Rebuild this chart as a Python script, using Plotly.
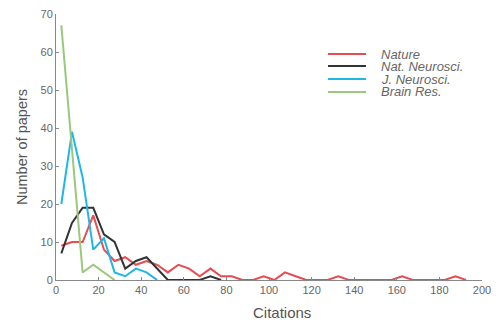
import plotly.graph_objects as go

bin_centers = [2.5 + 5 * i for i in range(39)]

nature = [9, 10, 10, 17, 8, 5, 6, 4, 5, 4, 2, 4, 3, 1, 3, 1, 1, 0, 0, 1,
          0, 2, 1, 0, 0, 0, 1, 0, 0, 0, 0, 0, 1, 0, 0, 0, 0, 1, 0]
nat_neurosci = [7, 15, 19, 19, 12, 10, 3, 5, 6, 3, 0, 0, 0, 0, 1, 0]
j_neurosci = [20, 39, 27, 8, 11, 2, 1, 3, 2, 0]
brain_res = [67, 34, 2, 4, 2, 0]

series_names = ["Nature", "Nat. Neurosci.", "J. Neurosci.", "Brain Res."]
series_values = [nature, nat_neurosci, j_neurosci, brain_res]
series_colors = ["#e84c52", "#333333", "#1db8e8", "#9cc77f"]

x_ticks = list(range(0, 201, 20))
y_ticks = list(range(0, 71, 10))

font = "Liberation Sans, Arial, Helvetica, sans-serif"

fig = go.Figure()
for name, vals, color in zip(series_names, series_values, series_colors):
    fig.add_trace(go.Scatter(
        x=bin_centers[:len(vals)], y=vals, mode="lines", name=name,
        line=dict(color=color, width=2), showlegend=False,
    ))

# legend drawn as line samples + italic labels
legend_y = [0.8496, 0.8045, 0.7556, 0.7068]
for name, color, ly in zip(series_names, series_colors, legend_y):
    fig.add_shape(type="line", xref="paper", yref="paper",
                  x0=0.6385, x1=0.7277, y0=ly, y1=ly,
                  line=dict(color=color, width=2))
    fig.add_annotation(xref="paper", yref="paper", x=0.7606, y=ly,
                       xanchor="left", yanchor="middle", showarrow=False,
                       borderpad=0, text="<i>" + name + "</i>",
                       font=dict(family=font, size=13, color="#666666"))

fig.add_annotation(xref="paper", yref="paper", x=-0.0798, y=0.5,
                   xanchor="center", yanchor="middle", showarrow=False,
                   textangle=-90, text="Number of papers", borderpad=0,
                   font=dict(family=font, size=14.5, color="#555555"))
fig.add_annotation(xref="paper", yref="paper", x=0.5305, y=-0.124,
                   xanchor="center", yanchor="middle", showarrow=False,
                   text="Citations", borderpad=0,
                   font=dict(family=font, size=15, color="#555555"))

# page body has an 8px margin, so the figure is shrunk/shifted by 8px
fig.update_layout(
    width=494, height=314,
    margin=dict(l=48, r=20, t=6, b=42),
    plot_bgcolor="white", paper_bgcolor="white",
    font=dict(family=font, color="#666666", size=11),
    showlegend=False,
    xaxis=dict(range=[0, 200], tickvals=x_ticks, showgrid=False, zeroline=False,
               showline=True, linecolor="#888888", linewidth=1, automargin=False,
               ticks="inside", ticklen=3, tickcolor="#888888",
               ticklabeloverflow="allow"),
    yaxis=dict(range=[0, 70], tickvals=y_ticks, showgrid=False, zeroline=False,
               showline=True, linecolor="#888888", linewidth=1, automargin=False,
               ticks="inside", ticklen=3, tickcolor="#888888",
               ticklabeloverflow="allow"),
)

fig.write_html("out.html")
